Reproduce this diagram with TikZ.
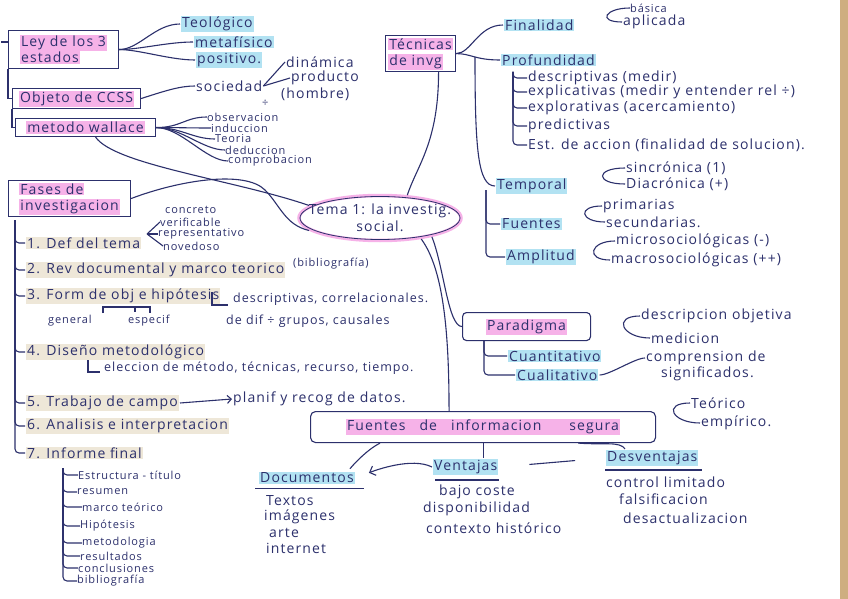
\documentclass[tikz,border=0pt]{standalone}
\usepackage{fontspec}
\setmainfont{Open Sans}[LetterSpace=8]
\usetikzlibrary{calc,arrows.meta,shapes.geometric}
\definecolor{tinta}{RGB}{44,48,108}
\definecolor{rosa}{RGB}{246,178,232}
\definecolor{celeste}{RGB}{178,226,242}
\definecolor{crema}{RGB}{238,231,216}
\definecolor{carton}{RGB}{206,174,128}
\newcommand{\marca}[2]{{\setlength{\fboxsep}{1pt}\colorbox{#1}{#2}}}

\begin{document}
\begin{tikzpicture}[x=1pt,y=-1pt,
    txt/.style={anchor=west,inner sep=1pt,text=tinta,font=\fontsize{14}{16}\selectfont},
    medio/.style={txt,font=\fontsize{12.5}{15}\selectfont},
    chico/.style={txt,inner sep=0pt,font=\fontsize{11}{13}\selectfont},
    caja/.style={draw=tinta,line width=1.1pt,anchor=north west,align=left,inner sep=3pt,text=tinta,font=\fontsize{14}{16}\selectfont},
    raya/.style={draw=tinta,line width=1.1pt},
    llave/.style={raya,rounded corners=4pt}]
\useasboundingbox (0,0) rectangle (848,599);
\fill[white] (0,0) rectangle (848,599);
\fill[carton] (840,0) rectangle (848,599);

% ley de los 3 estados
\node[caja,minimum width=110,minimum height=38] (ley) at (8,30) {\marca{rosa}{Ley de los 3}\\\marca{rosa}{estados}};
\node[txt] (teol) at (180,24) {\marca{celeste}{Teológico}};
\node[txt] (metaf) at (193,42) {\marca{celeste}{metafísico}};
\node[txt] (posit) at (195,60) {\marca{celeste}{positivo.}};
\foreach \n in {teol,metaf,posit}
    \draw[raya] (ley.east) .. controls +(20,0) and +(-25,0) .. (\n.west);

% objeto de las ccss
\node[caja,minimum width=128,minimum height=20,inner sep=1pt] (objeto) at (12,88) {\marca{rosa}{Objeto de CCSS}};
\node[txt] (soc) at (195,86) {sociedad};
\node[txt] (din) at (285,62) {dinámica};
\node[txt] (prod) at (290,78) {producto};
\node[txt] (homb) at (280,94) {(hombre)};
\node[chico] (divi) at (262,103) {÷};
\draw[raya] (objeto.east) .. controls +(25,-8) and +(-15,0) .. (soc.west);
\draw[raya] (soc.east) -- (din.west);
\draw[raya] (soc.east) -- (prod.west);

% metodo wallace
\node[caja,minimum width=140,minimum height=18,inner sep=1pt] (wallace) at (15,118) {\marca{rosa}{metodo wallace}};
\node[chico] (obs) at (207,117) {observacion};
\node[chico] (ind) at (211,128) {induccion};
\node[chico] (teor) at (215,139) {Teoria};
\node[chico] (ded) at (225,150) {deduccion};
\node[chico] (comp) at (228,161) {comprobacion};
\foreach \n in {obs,ind,teor,ded,comp}
    \draw[raya] (wallace.east) .. controls +(25,0) and +(-22,0) .. (\n.west);

% llave de la izquierda
\draw[raya] ($(ley.north west)+(0,12)$) -- +(-7,0);
\draw[raya] (ley.south west) |- (objeto.west);
\draw[raya] (objeto.south west) |- (wallace.west);

% tema central
\node[ellipse,draw=rosa,line width=3.5pt,inner xsep=-30pt,inner ysep=-10pt,minimum width=162,minimum height=45,align=center,text=tinta,font=\fontsize{14}{17}\selectfont] (tema) at (380,218) {Tema 1: la investig.\\social.};
\draw[tinta,line width=0.8pt] (tema.center) ellipse [x radius=80, y radius=21.5];

% fases
\node[caja,minimum width=122,minimum height=33,inner sep=2pt] (fases) at (8,180) {\marca{rosa}{Fases de}\\\marca{rosa}{investigacion}};
\draw[raya] ($(wallace.south)+(10,0)$) .. controls (115,165) and (235,180) .. (tema.170);
\draw[raya] (fases.east) .. controls (180,180) and (245,170) .. (265,190) .. controls (280,205) and (285,225) .. (tema.190);

\node[txt] (f1) at (25,243) {\marca{crema}{1. Def del tema}};
\node[txt] (f2) at (25,270) {\marca{crema}{2. Rev documental y marco teorico}};
\node[txt] (f3) at (25,296) {\marca{crema}{3. Form de obj e hipótesis}};
\node[txt] (f4) at (25,352) {\marca{crema}{4. Diseño metodológico}};
\node[txt] (f5) at (25,403) {\marca{crema}{5. Trabajo de campo}};
\node[txt] (f6) at (25,426) {\marca{crema}{6. Analisis e interpretacion}};
\node[txt] (f7) at (25,453) {\marca{crema}{7. Informe final}};
\coordinate (fasesbr) at (15,220);
\foreach \n in {f1,f2,f3,f4,f5,f6,f7}
    \draw[llave] (fasesbr) |- (\n.west);

% 1. def del tema
\node[chico] (concr) at (165,210) {concreto};
\node[chico] (verif) at (160,222) {verificable};
\node[chico] (repres) at (158,234) {representativo};
\node[chico] (noved) at (163,246) {novedoso};
\coordinate (f1tip) at (147,234);
\foreach \n in {verif,repres,noved}
    \draw[raya] (f1tip) -- (\n.west);

% 2. y 3.
\node[chico] (biblio) at (293,264) {(bibliografía)};
\node[chico] (general) at (48,321) {general};
\node[chico] (especif) at (128,321) {especif};
\draw[raya] (103,313) |- (150,307) -- (150,313);
\draw[raya] (135,307) -- (135,312);
\node[medio] (hip1) at (232,299) {descriptivas, correlacionales.};
\node[medio] (hip2) at (225,321) {de dif ÷ grupos, causales};
\draw[raya] ($(hip1.west)+(-20,-7)$) |- ($(hip1.west)+(-4,6)$);

% 4. y 5.
\node[medio] (elec) at (103,368) {eleccion de método, técnicas, recurso, tiempo.};
\draw[raya] ($(elec.west)+(-15,-8)$) |- ($(elec.west)+(-3,4)$);
\node[txt] (planif) at (232,399) {planif y recog de datos.};
\draw[raya,-{Straight Barb[length=4pt]}] (f5.east) -- (planif.west);

% 7. informe final
\node[chico] (i1) at (78,475) {Estructura - título};
\node[chico] (i2) at (77,492) {resumen};
\node[chico] (i3) at (82,507) {marco teórico};
\node[chico] (i4) at (80,526) {Hipótesis};
\node[chico] (i5) at (82,543) {metodologia};
\node[chico] (i6) at (80,556) {resultados};
\node[chico] (i7) at (78,568) {conclusiones};
\node[chico] (i8) at (77,581) {bibliografía};
\coordinate (infbr) at (63,468);
\foreach \n in {i1,i2,i3,i4,i5,i6,i7,i8}
    \draw[llave] (infbr) |- (\n.west);

% tecnicas de investigacion
\node[caja,minimum width=70,minimum height=36,inner sep=2pt] (tecnicas) at (385,35) {\marca{rosa}{Técnicas}\\\marca{rosa}{de invg}};
\draw[raya] ($(tecnicas.south)+(18,0)$) .. controls +(0,70) and +(10,-30) .. (tema.40);
\node[txt] (fin) at (503,25) {\marca{celeste}{Finalidad}};
\node[txt] (prof) at (500,60) {\marca{celeste}{Profundidad}};
\draw[raya] (tecnicas.east) .. controls +(15,0) and +(-25,0) .. (fin.west);
\draw[raya] (tecnicas.east) .. controls +(15,0) and +(-25,0) .. (prof.west);
\node[chico] (basica) at (630,8) {básica};
\node[txt] (aplic) at (622,22) {aplicada};
\draw[raya] (basica.west) .. controls +(-25,0) and +(-25,0) .. (aplic.west);

% profundidad
\node[txt] (desc) at (527,78) {descriptivas (medir)};
\node[txt] (expl) at (527,92) {explicativas (medir y entender rel ÷)};
\node[txt] (explo) at (527,108) {explorativas (acercamiento)};
\node[txt] (pred) at (527,126) {predictivas};
\node[txt] (est) at (527,145) {Est. de accion (finalidad de solucion).};
\coordinate (profbr) at (513,72);
\foreach \n in {desc,expl,explo,pred,est}
    \draw[llave] (profbr) |- (\n.west);

% temporal, fuentes, amplitud
\node[txt] (temporal) at (495,186) {\marca{celeste}{Temporal}};
\node[txt] (fuentes) at (500,224) {\marca{celeste}{Fuentes}};
\node[txt] (amplitud) at (505,257) {\marca{celeste}{Amplitud}};
\coordinate (tecv) at (475,57);
\draw[raya] (tecv) .. controls (475,150) and (478,186) .. (temporal.west);
\coordinate (tempbr) at (486,190);
\draw[llave] (tempbr) |- (fuentes.west);
\draw[llave] (tempbr) |- (amplitud.west);
\node[txt] (sinc) at (625,168) {sincrónica (1)};
\node[txt] (diac) at (625,184) {Diacrónica (+)};
\draw[raya] (sinc.west) .. controls +(-30,0) and +(-30,0) .. (diac.west);
\node[txt] (prim) at (602,206) {primarias};
\node[txt] (secu) at (605,222) {secundarias.};
\draw[raya] (prim.west) .. controls +(-25,0) and +(-25,0) .. (secu.west);
\node[txt] (micro) at (615,241) {microsociológicas (-)};
\node[txt] (macro) at (610,260) {macrosociológicas (++)};
\draw[raya] (micro.west) .. controls +(-25,0) and +(-25,0) .. (macro.west);

% paradigma
\node[caja,rounded corners=4pt,minimum width=128,minimum height=28] (paradigma) at (462,312) {\marca{rosa}{Paradigma}};
\draw[raya] (tema.-20) .. controls +(12,30) and +(-14,0) .. (paradigma.west);
\node[txt] (cuanti) at (507,356) {\marca{celeste}{Cuantitativo}};
\node[txt] (cuali) at (515,375) {\marca{celeste}{Cualitativo}};
\coordinate (parbr) at (484,340);
\draw[llave] (parbr) |- (cuanti.west);
\draw[llave] (parbr) |- (cuali.west);
\node[txt] (descobj) at (640,316) {descripcion objetiva};
\node[txt] (medic) at (650,338) {medicion};
\draw[raya] (descobj.west) .. controls +(-28,0) and +(-28,0) .. (medic.west);
\node[txt] (compr) at (645,358) {comprension de};
\node[txt] (signif) at (660,374) {significados.};
\draw[raya] (cuali.east) .. controls +(10,0) and +(-10,0) .. (compr.west);

% fuentes de informacion segura
\node[caja,rounded corners=5pt,minimum width=345,minimum height=31] (finfo) at (310,411) {\marca{rosa}{Fuentes\quad de\quad informacion\qquad segura}};
\draw[raya] (tema.-27) .. controls +(22,30) and +(0,-80) .. ($(finfo.north)+(-34,0)$);
\node[txt] (teorico) at (690,403) {Teórico};
\node[txt] (empir) at (700,423) {empírico.};
\draw[raya] (teorico.west) .. controls +(-28,0) and +(-28,0) .. (empir.west);

\node[txt] (docs) at (258,478) {\marca{celeste}{Documentos}};
\node[txt] (ventajas) at (432,467) {\marca{celeste}{Ventajas}};
\node[txt] (desv) at (605,458) {\marca{celeste}{Desventajas}};
\draw[raya] ($(docs.south west)+(-3,3)$) -- ($(docs.south east)+(8,3)$);
\draw[raya] ($(ventajas.south west)+(3,4)$) -- ($(ventajas.south east)+(0,4)$);
\draw[raya] ($(desv.south west)+(0,3)$) -- ($(desv.south east)+(2,3)$);
\draw[raya] ($(finfo.south west)+(70,0)$) .. controls +(-12,6) and +(5,-6) .. ($(docs.north east)+(-6,-2)$);
\draw[raya] (finfo.south) -- (finfo.south |- ventajas.north);
\draw[raya] ($(finfo.south east)+(-78,0)$) .. controls +(25,2) and +(-5,-8) .. ($(desv.north west)+(20,0)$);
\draw[raya,-{Straight Barb[length=5pt]},shorten >=14pt] (ventajas.west) .. controls +(-20,-10) and +(20,-8) .. (docs.east);
\draw[raya,shorten <=30pt,shorten >=30pt] (ventajas.east) -- (desv.west);

\node[txt] (textos) at (265,501) {Textos};
\node[txt] (imag) at (263,517) {imágenes};
\node[txt] (arte) at (268,533) {arte};
\node[txt] (inter) at (265,548) {internet};
\node[txt] (coste) at (438,492) {bajo coste};
\node[txt] (dispo) at (422,509) {disponibilidad};
\node[txt] (contx) at (425,528) {contexto histórico};
\node[txt] (contr) at (605,482) {control limitado};
\node[txt] (falsi) at (618,499) {falsificacion};
\node[txt] (desac) at (622,518) {desactualizacion};
\end{tikzpicture}
\end{document}
